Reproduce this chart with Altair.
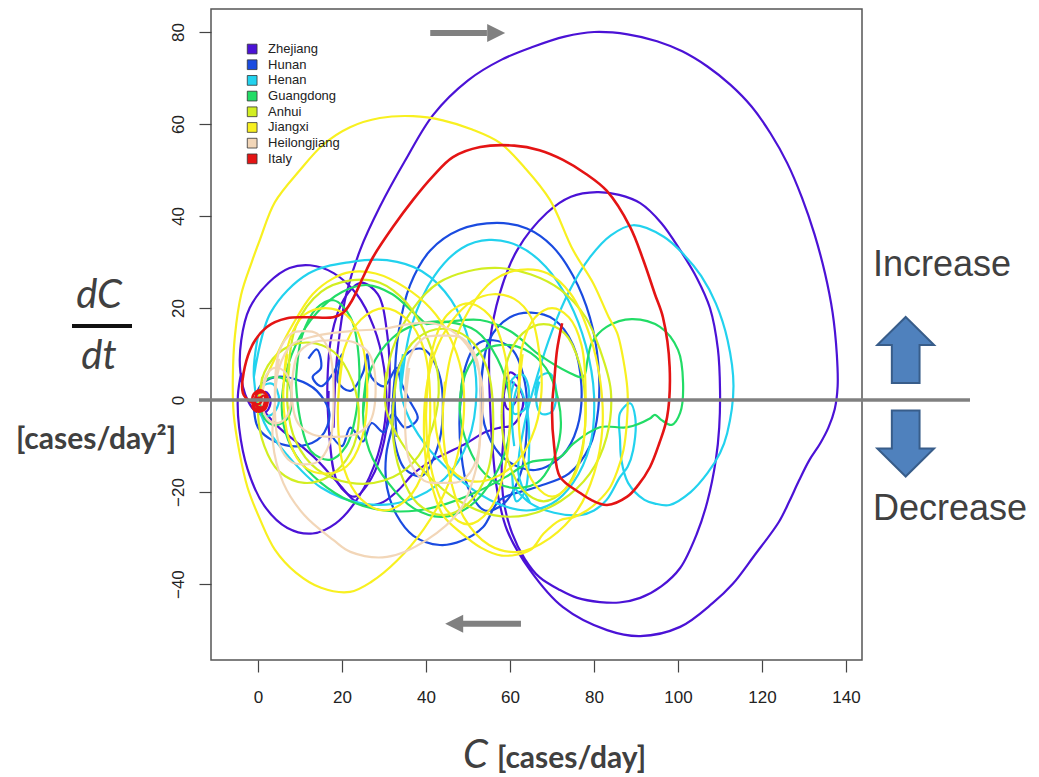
import altair as alt
import pandas as pd

# ---------------- data (C [cases/day], dC/dt [cases/day^2]) ----------------
SERIES = ["Zhejiang", "Hunan", "Henan", "Guangdong", "Anhui", "Jiangxi", "Heilongjiang", "Italy"]
COLORS = ["#4B12D6", "#1A4BE0", "#22D2EE", "#22DC66", "#D2EE22", "#F8F020", "#F2D6B8", "#E41414"]

ZHEJIANG = [
    [(0,0),(1.8,1.8),(3,0),(2,-2.5),(-0.5,-2.5),(-2.5,0),(-4.2,6),(-4,13),(-2,20),(2.5,25.5),(7.5,28.7),(12.4,29.3),(18,27.6),(23.5,23),(27.5,16),(30,7),(30.5,-2),(28.5,-12),(24,-21),(18.5,-26.8),(13,-29),(7,-27.8),(1.5,-23),(-2.5,-15),(-4.5,-6),(-4.8,1),(-4,6)],
    [(17,-8),(16.5,3),(17.5,14),(20.5,22),(24.5,25.5),(28.5,23),(30.8,14),(31.3,2),(30,-9),(27,-17),(23,-21),(19,-18),(17,-8),(16.8,2)],
    [(18,-6),(18.5,6),(19.5,15),(21,23),(24.3,32.6),(29,42),(35,52),(41.7,62),(50,69.5),(58,74),(65.5,76.8),(73,79),(80,80),(88,79.5),(95,78),(101,75.8),(107,72.5),(112.5,68.5),(117.5,63.8),(122,58),(126,51.5),(129.5,44),(132.5,36),(135,27.5),(136.8,19),(137.8,10),(138,3),(137.3,-2),(135.8,-6),(133.8,-9.5),(131.3,-13),(128.8,-17.5),(126.5,-22),(124,-26.5),(118,-34),(113,-40),(108.3,-44.1),(100.5,-49.3),(91,-51.3),(83.1,-50),(72.6,-45),(64.8,-37),(59.3,-28.3),(57,-20),(55.8,-10),(55.2,0),(55.2,12.4),(57.6,23.3),(61.7,32.6),(68.8,40.7),(74.5,44.2),(80.7,45.2),(86,44.6),(91,42.8),(96,38.5),(100.5,32.6),(104.5,26.5),(107.6,20),(109.5,11),(110,2),(109.8,-6),(109,-13),(107,-22),(104.5,-29),(100.5,-36.5),(96,-40.5),(91,-43),(86,-44),(81.4,-43.9),(76,-43),(71.9,-41.3),(67,-38.5),(63.5,-34.5),(60.5,-29),(58.5,-22),(58,-15),(58.5,-7),(58.5,1),(60,6),(62,4.5),(61.5,0),(59.5,-2),(58.5,1.5),(60,4),(63,1),(62.5,-3),(60.5,-5.5),(57.6,-6),(54,-7),(49.8,-9.3),(45,-11.5),(41.7,-13),(37,-16),(33.5,-19.5),(29,-22.5),(24,-22.5),(19,-18),(14,-13),(9,-9),(5,-6),(2,-3),(0.5,-1)],
]

HUNAN = [
    [(33,-8),(32.5,3),(33.5,15),(36.2,25),(41,32.5),(48,37),(56.9,38.5),(64,37.3),(70,33.5),(75,27),(79,18),(81,8),(81,-2),(79,-10),(74,-16),(66,-19),(57.6,-21.7),(53.6,-27.6),(48.5,-30.6),(43.3,-31.5),(37,-29.5),(33,-25),(30.7,-19),(30.5,-12),(32,-6)],
    [(53,2),(55,13),(60,18),(65,19),(70.5,17.5),(75,12),(77,3),(76,-6),(72.5,-12),(66,-15.2),(59,-13),(54.5,-7),(53,2),(54,10)],
    [(48,-5),(49,6),(52,12),(56,13),(60.5,11),(63.5,4),(64,-6),(62.5,-16),(58.5,-22.5),(54,-24),(50,-19),(48.3,-11),(48,-3),(49,5)],
    [(32,-3),(33,6),(36,10.5),(39.5,11),(43,6),(44,-3),(42.5,-11),(39,-16.5),(35,-15),(32.5,-9),(32,-1)],
    [(-1,-2),(0.5,3),(4,5),(9,4.5),(14,2),(17,-3),(15,-8),(10,-10),(4,-9),(0,-6),(-1,-1)],
    [(12,9),(14,11),(15,7),(13,5),(15,3),(18,6),(20,10),(19,4),(22,2),(25,6),(26,10),(27,5),(30,3),(33,7),(34,4),(36,0),(38,-4),(35,-6),(32,-3),(30,-7),(27,-5),(25,-9),(22,-6),(20,-10),(17,-7)],
]

HENAN = [
    [(0,0),(1,3),(3.5,3.5),(5,0),(3.5,-3),(1,-3.5),(-0.5,-1),(0.5,2.5)],
    [(-1,5),(3,19),(12,27.5),(22,30),(30.7,30.4),(39,28),(46,21.7),(50.5,12),(52,2),(50,-9),(44.5,-17),(35,-22),(25,-22.5),(15,-19),(7,-12),(1.5,-5),(-1,5),(0,14)],
    [(34,2),(36.5,16),(42,27),(48.5,33),(55,34.8),(62,33.5),(68.5,29),(74,21.5),(78,12),(80,1),(79,-10),(75,-18),(70,-22.5),(64,-24),(57,-22.5),(49,-18),(41,-11),(36,-4),(34,2),(34.5,10)],
    [(64.8,-22.4),(62,-16),(63.5,-5),(66.4,5),(70,15),(74,23.5),(79,31),(84,35.8),(89.3,38),(96.6,35.5),(101.5,31.5),(105.5,27),(109,21),(111.8,13),(113.2,3),(111.7,-7.2),(110,-11.5),(107,-15.9),(103,-20),(98,-22.8),(94.5,-22.5),(92,-21.7),(88.1,-18),(86.5,-13),(86.2,-8.7),(86.2,-2.8),(88.6,-0.7),(89.8,-3.7),(89.3,-10.9),(88,-14.5),(86.2,-16.7),(83,-21.7),(80,-24),(76.7,-25),(70.5,-24.5),(64.8,-22.4),(61,-19)],
    [(60,0),(60.5,4.5),(63,5.5),(64.5,2),(63.5,-2),(61,-3),(60.2,0.5),(61,4)],
    [(66,1),(67,5),(69.5,5.8),(71,2),(70,-2.5),(67.5,-3),(66.2,0),(67,4)],
    [(61,-10),(60.5,-3),(62,3),(64,-2),(64.5,-12),(63.5,-20),(61.5,-22),(60.5,-16)],
]

GUANGDONG = [
    [(0.5,0),(1.5,4),(4,5),(7,4),(8,0),(7,-4),(4,-5.5),(1.5,-4),(0.5,0),(1.5,4)],
    [(40,16.5),(45,17),(52.9,17.4),(60,15),(67,9.8),(74,6),(77.4,5),(78.5,9),(79.5,12.5),(83,15.9),(89,17.6),(95.7,15.9),(100,10.9),(101.2,3.7),(100.5,-2.8),(98.5,-5.4),(96,-4.3),(94.5,-3.2),(93.3,-4),(88,-5.9),(81.4,-5.9),(75,-9.5),(71.9,-12.4),(64.8,-13.5),(59,-16.7),(52,-20),(45,-22.5),(38,-24),(30,-24),(22,-22),(15,-18),(9,-12),(6,-5),(6,3),(9,12),(14,19),(20,23.5),(26,25),(32,23),(37,19),(40,16.5)],
    [(25,-3),(27,7),(32,13.5),(38,16.5),(45,17),(52,15),(57,9),(60,0),(59.5,-9),(56,-17),(50.5,-23),(44,-25.4),(37,-23.5),(31,-18),(26.5,-11),(25,-3),(26,6)],
    [(48,-2),(49.5,6),(53,10.5),(58,12),(63.5,11),(68.5,7),(71.5,0),(72,-7),(70,-13.5),(66.4,-18),(60,-19),(54,-16),(50,-10),(48,-2),(49,6)],
    [(9,4),(10.5,14),(14,20),(18,21.7),(22,18),(24,9),(23.5,-2),(21,-10),(17,-13),(12.5,-11),(10,-4),(9,4)],
]

ANHUI = [
    [(30,0),(32,11),(37,20),(43,25.5),(50,28),(57.6,28.7),(65,27.3),(72,24),(78,18),(81.4,11),(84,2),(83,-8),(79,-16),(72,-22),(64,-25),(56,-25),(48,-22),(40,-16),(34,-9),(30.5,-2),(30.5,6)],
    [(7,4),(9,16),(15,23.5),(22,26),(29,25.5),(35.5,21),(40.5,13),(43,4),(41.5,-6),(37,-13.5),(30,-17.5),(22,-18),(14,-15),(9,-9),(7,-1),(7.5,8)],
    [(0,-3),(1.5,6),(6,11),(12,12.5),(18,10.5),(22.5,4),(24,-4),(22,-11.5),(17,-16.5),(11,-18),(5,-15.5),(1.5,-10),(0,-3),(1,5)],
    [(32,-5),(33.5,7),(38,13.5),(44,15.5),(50,13.5),(54.5,7),(56,-5),(54.5,-16),(50,-22.5),(44,-25),(38,-22.5),(34,-16),(32,-6),(33,5)],
    [(58,-3),(59.5,9),(63,14.5),(68,16.5),(73,14.5),(76.5,8),(78,-3),(76.5,-13),(73,-19.5),(68,-22),(63,-19.5),(59.5,-13),(58,-4),(59,6)],
]

JIANGXI = [
    [(0,0),(1.5,4),(4,9),(8,16),(13,23),(18,26.5),(21.9,27.8),(28,27.5),(35,24.5),(41,20),(45.5,14),(48.5,6),(49,-3),(47.5,-12),(44.5,-20),(39.5,-28),(33,-35),(27,-39.5),(21.9,-41.7),(15,-40.8),(9,-37.5),(4,-32.5),(0.5,-26),(-2.5,-19),(-4.5,-11),(-5.8,-3),(-6,5),(-5.5,14),(-4,23),(-1.5,30),(0.5,35),(4,43),(10,50),(15.5,55.5),(21.9,59.3),(29,61.3),(36.9,61.7),(44,60.8),(51,58.8),(57.6,55.9),(63.5,50.5),(69.5,43.5),(75,32.6),(79.8,25.4),(83.5,18),(85.5,14.6),(87.3,7),(88,1.5),(87.8,-5),(87,-10.9),(85.5,-15.5),(83.8,-19),(81,-22),(78.3,-24),(75,-25.5),(71.9,-26.1),(68,-29),(64.8,-32.6),(58,-33.8),(52.9,-32),(48.5,-29),(44,-25),(41.5,-19),(40.2,-14.6),(39.5,-7),(40,2),(42,10),(46,17),(51,21.5),(56,23),(61,22),(65,18),(67,10),(67.5,2),(66,-6),(62,-13),(56,-17),(50,-17.5),(45,-14),(42.5,-7),(42,0)],
    [(44,-2),(46,10),(50.5,20),(56,26),(62.4,28.3),(69,27.5),(74.5,23),(79,14),(81.5,4),(82,-6),(80,-16),(76,-24),(69.5,-30),(62,-33),(55,-31.5),(49,-25.5),(45.5,-16),(44,-6),(44.5,4)],
    [(40,-3),(41.5,11),(45,18.5),(50,21),(55,18.5),(58.5,11),(60,-3),(58.5,-16),(55,-24),(50,-27),(45,-24),(41.5,-16),(40,-4),(41,8)],
    [(19,-2),(20.5,11),(24.5,17.5),(30,20),(35.5,17.5),(39.5,11),(41,-2),(39.5,-15),(35.5,-21.5),(30,-24),(24.5,-21.5),(20.5,-15),(19,-3),(20,8)],
    [(6,2),(7.5,13),(11,18.5),(16,20),(21,18.5),(24.5,13),(26,2),(24.5,-9),(21,-14.5),(16,-16),(11,-14.5),(7.5,-9),(6,1),(7,10)],
    [(62,0),(63,12),(66,18),(70,20),(74,18),(77,12),(78,0),(77,-12),(74,-18.5),(70,-21),(66,-18.5),(63,-12),(62,-1),(63,10)],
]

HEILONGJIANG = [
    [(4,0),(5,7),(8,12),(14,14),(22,15),(30,15.5),(36,16.5),(41.7,16.7),(47,14.5),(50.5,10.9),(53,5),(53.6,0),(53,-7),(52,-14.6),(48,-24),(40.2,-30.4),(30.7,-34.1),(22,-33),(17.9,-30.4),(11,-25),(6,-18),(3.5,-9),(4,-1)],
    [(4,0.5),(5,10.5),(8,14.5),(11,15),(14,14.5),(17,10.5),(18,0.5),(17,-9.5),(14,-13.5),(11,-14),(8,-13.5),(5,-9.5),(4,0),(5,9)],
    [(8,2.5),(9.5,10),(13,12.5),(18,13),(23,12.5),(26.5,10),(28,2.5),(26.5,-5),(23,-7.5),(18,-8),(13,-7.5),(9.5,-5),(8,2),(9,9)],
    [(35,-2),(36,9),(39.5,13.5),(44,14),(48.5,13.5),(52,9),(53,-2),(52,-13),(48.5,-17.5),(44,-18),(39.5,-17.5),(36,-13),(35,-3),(36,7)],
    [(1,1),(2,5.5),(4,7),(6.5,6),(8,1),(6.5,-4),(4,-5),(1.8,-3.5),(1,1),(2,5)],
]

ITALY = [
    [(0,0),(1.5,1),(1.2,-1.5),(-0.5,-1.2),(-0.3,1.3),(1.6,1.6),(2,-0.5),(0.6,-2),(-1,-1.5),(-1.2,1),(0.5,2.2),(2.2,0.8),(1.8,-1.8),(0,-2.5),(-1.2,-1.8),(-0.8,0.2),(0.8,0.4),(0.4,-0.8),(-1.5,-0.5),(-3.6,1.5),(-1.9,10.9),(2.1,15.9),(6.9,17.8),(12,18),(17.9,18),(20.2,18.9),(22.4,21.7),(25,26.7),(27.4,31.1),(32.1,37.6),(36.9,43.5),(41.5,48.5),(46.4,52.8),(52.9,55),(61,55.3),(67,54.3),(72.6,52.2),(78,49.2),(83,45.5),(88.6,37.6),(91.7,30.5),(94.5,23),(96.4,18),(98,7.2),(97.4,-3.7),(95.5,-9.5),(93.3,-14.6),(90.5,-18.5),(87.9,-21),(83.1,-22.8),(79.5,-21.8),(76.7,-20.2),(71.9,-16.7),(70.5,-10),(70,-2.2),(70.6,5),(71.2,10.9),(72.4,16.7)],
]

ALL = [ZHEJIANG, HUNAN, HENAN, GUANGDONG, ANHUI, JIANGXI, HEILONGJIANG, ITALY]

X_TICKS = [0, 20, 40, 60, 80, 100, 120, 140]
Y_TICKS = [-40, -20, 0, 20, 40, 60, 80]

# ---------------- build table ----------------
rows = []
for name, segs in zip(SERIES, ALL):
    for s, seg in enumerate(segs):
        for i, (c, d) in enumerate(seg):
            rows.append({"series": name, "seg": f"{name}-{s}", "i": i, "C": c, "dC": d})
df = pd.DataFrame(rows)

XS = alt.Scale(domain=[-11.2, 143.8], nice=False, zero=False)
YS = alt.Scale(domain=[-56.5, 85], nice=False, zero=False)

FONT = "Liberation Sans"
xenc = alt.X("C:Q", scale=XS, title=None,
             axis=alt.Axis(values=X_TICKS, grid=False, domain=False, tickSize=12, tickColor="#444",
                           tickWidth=1.2, labelFontSize=17, labelFont=FONT, labelColor="#222",
                           labelPadding=17))
yenc = alt.Y("dC:Q", scale=YS, title=None,
             axis=alt.Axis(values=Y_TICKS, grid=False, domain=False, tickSize=12, tickColor="#444",
                           tickWidth=1.2, labelFontSize=17, labelFont=FONT, labelColor="#222",
                           labelAngle=270, labelAlign="center", labelBaseline="bottom",
                           labelPadding=12))

layers = []
for name, col in zip(SERIES, COLORS):
    w = 2.6 if name == "Italy" else 2.2
    layers.append(
        alt.Chart(df[df.series == name]).mark_line(color=col, strokeWidth=w, interpolate="catmull-rom")
        .encode(x=xenc, y=yenc, detail="seg:N", order="i:Q")
    )

one = pd.DataFrame({"a": [0]})

# zero line
zero_line = alt.Chart(one).mark_rule(color="#808080", strokeWidth=3.5).encode(
    x=alt.value(-12), x2=alt.value(759), y=alt.Y("a:Q", scale=YS))

# grey direction arrows inside the plot (data coordinates)
arrows = pd.DataFrame({"x1": [41.0, 48.8], "x2": [54.5, 62.6], "y": [79.8, -48.6],
                       "hx": [56.7, 46.7], "dir": ["r", "l"]})
shafts = alt.Chart(arrows).mark_rule(color="#808080", strokeWidth=6).encode(
    x=alt.X("x1:Q", scale=XS), x2="x2:Q", y=alt.Y("y:Q", scale=YS))
head_r = alt.Chart(arrows[arrows.dir == "r"]).mark_point(
    shape="M-1,-1L1,0L-1,1Z", filled=True, color="#808080", size=324, opacity=1).encode(
    x=alt.X("hx:Q", scale=XS), y=alt.Y("y:Q", scale=YS))
head_l = alt.Chart(arrows[arrows.dir == "l"]).mark_point(
    shape="M1,-1L-1,0L1,1Z", filled=True, color="#808080", size=324, opacity=1).encode(
    x=alt.X("hx:Q", scale=XS), y=alt.Y("y:Q", scale=YS))

# legend (inside plot, top-left)
leg = pd.DataFrame({"label": SERIES, "color": COLORS, "row": list(range(len(SERIES)))})
leg["y"] = 76.3 - 3.41 * leg["row"]
leg["xs"] = -1.4
leg["xt"] = 2.4
leg_sq = alt.Chart(leg).mark_square(size=95, filled=True, stroke="#333", strokeWidth=0.8, opacity=1).encode(
    x=alt.X("xs:Q", scale=XS), y=alt.Y("y:Q", scale=YS), fill=alt.Fill("color:N", scale=None))
leg_tx = alt.Chart(leg).mark_text(align="left", baseline="middle", fontSize=13, font=FONT, color="#222").encode(
    x=alt.X("xt:Q", scale=XS), y=alt.Y("y:Q", scale=YS), text="label:N")

# block arrows on the right
UP = "M0,-1L0.86,-0.15L0.42,-0.15L0.42,1L-0.42,1L-0.42,-0.15L-0.86,-0.15Z"
DOWN = "M0,1L0.86,0.15L0.42,0.15L0.42,-1L-0.42,-1L-0.42,0.15L-0.86,0.15Z"
up_arrow = alt.Chart(one).mark_point(shape=UP, filled=True, fill="#4F81BD", stroke="#385D8A",
                                     strokeWidth=2, size=4356, opacity=1).encode(
    x=alt.value(694.7), y=alt.value(341))
down_arrow = alt.Chart(one).mark_point(shape=DOWN, filled=True, fill="#4F81BD", stroke="#385D8A",
                                       strokeWidth=2, size=4356, opacity=1).encode(
    x=alt.value(694.7), y=alt.value(434.5))

def label(txt, x, y, size, align="left", style="normal", weight="normal", font=FONT, color="#404040"):
    return alt.Chart(one).mark_text(text=txt, align=align, baseline="alphabetic", fontSize=size,
                                    fontStyle=style, fontWeight=weight, font=font, color=color).encode(
        x=alt.value(x), y=alt.value(y))

texts = [
    label("Increase", 662, 267, 36),
    label("Decrease", 662, 511, 36),
    label("dC", -112, 299, 40, align="center", style="italic", font="Lato"),
    label("dt", -112, 360, 40, align="center", style="italic", font="Lato"),
    label("[cases/day²]", -115, 440, 30, align="center", weight="bold", font="Lato"),
    label("C", 252, 759, 40, style="italic", font="Lato"),
    label("[cases/day]", 286, 759, 30, weight="bold", font="Lato"),
]
frac_bar = alt.Chart(one).mark_rule(color="#111", strokeWidth=4).encode(
    x=alt.value(-139), x2=alt.value(-79), y=alt.value(317))

chart = alt.layer(*layers, zero_line, shafts, head_r, head_l, leg_sq, leg_tx,
                  up_arrow, down_arrow, frac_bar, *texts).properties(
    width=651, height=651,
    autosize=alt.AutoSizeParams(type="none"),
    padding={"left": 203, "top": 1, "right": 166, "bottom": 116},
    background="white",
).configure_view(stroke="#555", strokeWidth=1.5)

chart.save("out.html", embed_options={"renderer": "svg", "actions": False})
